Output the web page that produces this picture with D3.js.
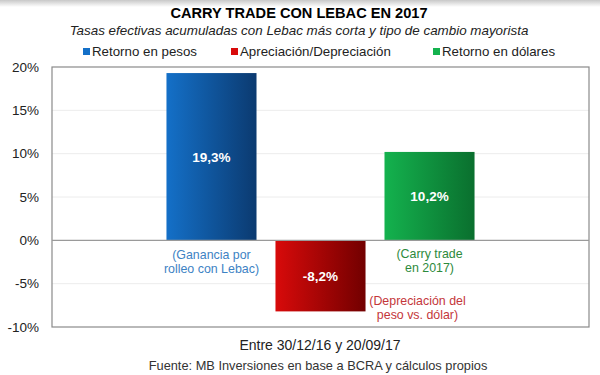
<!DOCTYPE html>
<meta charset="utf-8">
<style>
body { margin: 0; background: #fff; }
text { font-family: "Liberation Sans", Arial, sans-serif; }
</style>
<body>
<svg id="chart" width="600" height="375"></svg>
<script src="https://cdn.jsdelivr.net/npm/d3@7"></script>
<script>

var categories = ["Retorno en pesos", "Apreciación/Depreciación", "Retorno en dólares"];
var values = [19.3, -8.2, 10.2];
var valueLabels = ["19,3%", "-8,2%", "10,2%"];
var notes = [["(Ganancia por", "rolleo con Lebac)"], ["(Depreciación del", "peso vs. dólar)"], ["(Carry trade", "en 2017)"]];
var yTicks = [-10, -5, 0, 5, 10, 15, 20];

var colors = [
  {light: "#1470c8", dark: "#0b3a70", note: "#3d82c4"},
  {light: "#d80a0a", dark: "#720000", note: "#c4363a"},
  {light: "#14b24e", dark: "#0a6f2e", note: "#2d8a3c"}
];

var svg = d3.select("#chart"),
    plotL = 52, plotR = 589, plotT = 67, plotB = 327;

var x = d3.scaleBand()
    .domain(categories)
    .range([plotL, plotR])
    .paddingInner(0.174)
    .paddingOuter(1.05);

var y = d3.scaleLinear()
    .domain([-10, 20])
    .range([plotB, plotT]);

var defs = svg.append("defs");
colors.forEach(function(c, i) {
  var gr = defs.append("linearGradient").attr("id", "grad" + i)
      .attr("x1", "0").attr("x2", "1").attr("y1", "0").attr("y2", "0");
  gr.append("stop").attr("offset", "0").attr("stop-color", c.light);
  gr.append("stop").attr("offset", "1").attr("stop-color", c.dark);
});

// light shadow at the top edge
var sh = defs.append("linearGradient").attr("id", "shadow")
    .attr("x1", "0").attr("x2", "0").attr("y1", "0").attr("y2", "1");
sh.append("stop").attr("offset", "0").attr("stop-color", "#c8c8c8");
sh.append("stop").attr("offset", "1").attr("stop-color", "#fff");
svg.append("rect").attr("x", 0).attr("y", 0).attr("width", 600).attr("height", 7).attr("fill", "url(#shadow)");

// title
svg.append("text")
    .attr("x", 299).attr("y", 18)
    .attr("text-anchor", "middle")
    .style("font-size", "14.6px").style("font-weight", "bold")
    .text("CARRY TRADE CON LEBAC EN 2017");

svg.append("text")
    .attr("x", 299).attr("y", 35)
    .attr("text-anchor", "middle")
    .style("font-size", "13.4px").style("font-style", "italic")
    .attr("fill", "#222")
    .text("Tasas efectivas acumuladas con Lebac más corta y tipo de cambio mayorista");

// legend
var legendX = [83, 231, 433];
var legend = svg.selectAll(".legend")
    .data(categories)
    .enter().append("g")
    .attr("class", "legend")
    .attr("transform", function(d, i) { return "translate(" + legendX[i] + ",56)"; });

legend.append("rect")
    .attr("x", 0).attr("y", -8)
    .attr("width", 7).attr("height", 7)
    .attr("fill", function(d, i) { return colors[i].light; });

legend.append("text")
    .attr("x", 9).attr("y", 0)
    .style("font-size", "13.3px")
    .attr("fill", "#222")
    .text(function(d) { return d; });

// grid
svg.append("g")
    .selectAll("line")
    .data(yTicks.filter(function(t) { return t !== 0 && t !== 20 && t !== -10; }))
    .enter().append("line")
    .attr("x1", plotL).attr("x2", plotR)
    .attr("y1", function(d) { return y(d); })
    .attr("y2", function(d) { return y(d); })
    .attr("stroke", "#ececec");

// frame
svg.append("rect")
    .attr("x", plotL).attr("y", plotT)
    .attr("width", plotR - plotL).attr("height", plotB - plotT)
    .attr("fill", "none").attr("stroke", "#8a8a8a").attr("stroke-width", 1.2);

// y axis
var yAxis = svg.append("g")
    .attr("transform", "translate(" + plotL + ",0)")
    .call(d3.axisLeft(y).tickValues(yTicks).tickSize(0).tickPadding(13)
      .tickFormat(function(d) { return d + "%"; }));
yAxis.select(".domain").remove();
yAxis.selectAll("text")
    .style("font-family", "'Liberation Sans', Arial, sans-serif")
    .style("font-size", "13.5px").attr("fill", "#222");

// bars
svg.append("g")
    .selectAll("rect")
    .data(values)
    .enter().append("rect")
    .attr("x", function(d, i) { return x(categories[i]); })
    .attr("y", function(d) { return y(Math.max(0, d)); })
    .attr("width", x.bandwidth())
    .attr("height", function(d) { return Math.abs(y(d) - y(0)); })
    .attr("fill", function(d, i) { return "url(#grad" + i + ")"; });

// zero line
svg.append("line")
    .attr("x1", plotL).attr("x2", plotR)
    .attr("y1", y(0)).attr("y2", y(0))
    .attr("stroke", "#9a9a9a").attr("stroke-width", 1.2);

// value labels
svg.append("g")
    .selectAll("text")
    .data(values)
    .enter().append("text")
    .attr("x", function(d, i) { return x(categories[i]) + x.bandwidth() / 2; })
    .attr("y", function(d) { return y(d / 2) + 5; })
    .attr("text-anchor", "middle")
    .attr("fill", "#fff")
    .style("font-size", "13.5px").style("font-weight", "bold")
    .text(function(d, i) { return valueLabels[i]; });

// notes
var noteDx = [0, 97, 0];
var noteY = [y(0) + 19, y(values[1]) - 6, y(0) + 18];
notes.forEach(function(lines, i) {
  var t = svg.append("text")
      .attr("text-anchor", "middle")
      .attr("fill", colors[i].note)
      .style("font-size", "12.4px");
  lines.forEach(function(l, j) {
    t.append("tspan")
      .attr("x", x(categories[i]) + x.bandwidth() / 2 + noteDx[i])
      .attr("y", noteY[i] + j * 14)
      .text(l);
  });
});

// x label and source
svg.append("text")
    .attr("x", 320).attr("y", 350)
    .attr("text-anchor", "middle")
    .style("font-size", "14px").attr("fill", "#222")
    .text("Entre 30/12/16 y 20/09/17");

svg.append("text")
    .attr("x", 318).attr("y", 370)
    .attr("text-anchor", "middle")
    .style("font-size", "12.8px").attr("fill", "#333")
    .text("Fuente: MB Inversiones en base a BCRA y cálculos propios");

</script>
</body>
